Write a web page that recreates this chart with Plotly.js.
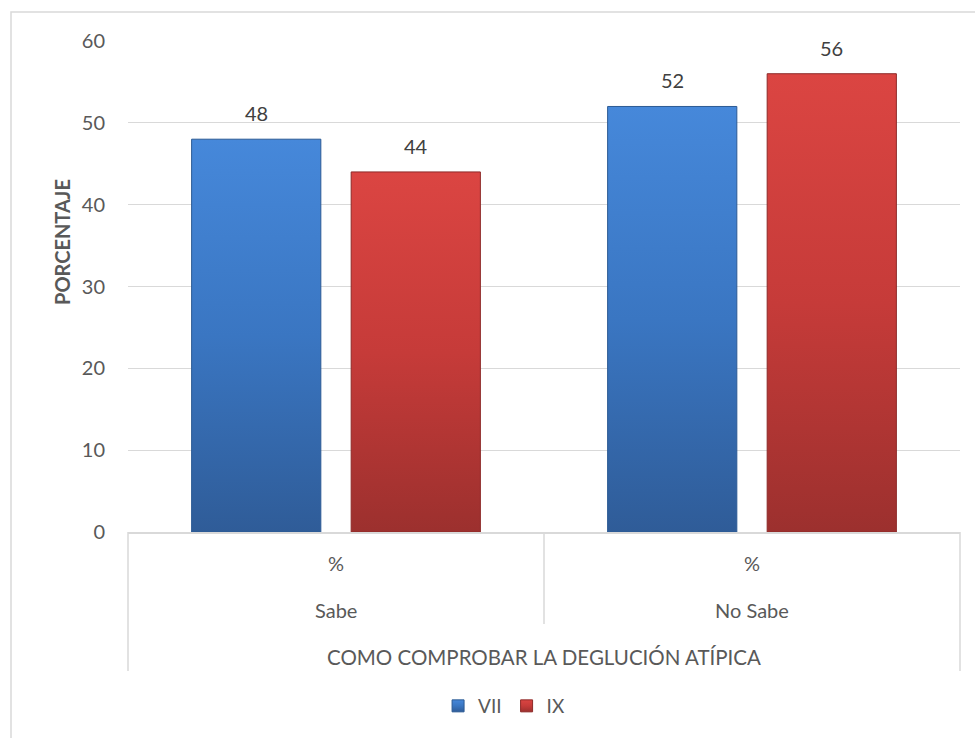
<!DOCTYPE html>
<html>
<head>
<meta charset="utf-8">
<script src="https://cdn.plot.ly/plotly-3.0.1.min.js"></script>
<style>html,body{margin:0;padding:0;background:#fff;}#chart{width:975px;height:738px;}</style>
</head>
<body>
<div id="chart"></div>
<script>
// ---- data ----
const categories = ["Sabe", "No Sabe"];
const innerLabel = ["%", "%"];
const outerLabel = "COMO COMPROBAR LA DEGLUCIÓN ATÍPICA";
const seriesNames = ["VII", "IX"];
const valuesVII = [48, 52];
const valuesIX = [44, 56];
const yTitle = "PORCENTAJE";

const FONT = "Lato, 'Open Sans', sans-serif";
const px = p => (p - 128) / 832;
const py = p => (532 - p) / 491;

const traces = [
  {type: "bar", name: seriesNames[0], x: categories, y: valuesVII,
   marker: {color: "#3a78c6", line: {color: "#2c5a94", width: 1}}, hoverinfo: "none"},
  {type: "bar", name: seriesNames[1], x: categories, y: valuesIX,
   marker: {color: "#c93c3a", line: {color: "#8e2a28", width: 1}}, hoverinfo: "none"}
];

const annotations = [];
const slot = 79.75;
[valuesVII, valuesIX].forEach((vals, si) => {
  vals.forEach((v, i) => {
    annotations.push({x: categories[i], y: v, xref: "x", yref: "y", text: String(v),
      showarrow: false, xshift: si === 0 ? -slot : slot, yshift: 26, yanchor: "middle",
      font: {family: FONT, size: 20, color: "#404040"}});
  });
});
categories.forEach((c, i) => {
  annotations.push({x: c, xref: "x", y: py(563), yref: "paper", text: innerLabel[i], showarrow: false,
    yanchor: "middle", font: {family: FONT, size: 20, color: "#595959"}});
  annotations.push({x: c, xref: "x", y: py(610), yref: "paper", text: c, showarrow: false,
    yanchor: "middle", font: {family: FONT, size: 20, color: "#595959"}});
});
annotations.push({x: 0.5, xref: "paper", y: py(657), yref: "paper", text: outerLabel, showarrow: false,
  yanchor: "middle", font: {family: FONT, size: 20.5, color: "#595959"}});
annotations.push({x: px(62), xref: "paper", y: py(242), yref: "paper", text: "<b>" + yTitle + "</b>",
  textangle: -90, showarrow: false, xanchor: "center", yanchor: "middle",
  font: {family: FONT, size: 20, color: "#595959"}});

const lineStyle = {color: "#d9d9d9", width: 1.5};
const shapes = [
  {type: "rect", xref: "paper", yref: "paper", x0: px(11), x1: px(990), y0: py(760), y1: py(12),
   line: {color: "#d9d9d9", width: 1.5}, fillcolor: "rgba(0,0,0,0)", layer: "below"},
  {type: "line", xref: "paper", yref: "paper", x0: 0, x1: 0, y0: 0, y1: py(671), line: lineStyle},
  {type: "line", xref: "paper", yref: "paper", x0: 1, x1: 1, y0: 0, y1: py(671), line: lineStyle},
  {type: "line", xref: "paper", yref: "paper", x0: 0.5, x1: 0.5, y0: 0, y1: py(624), line: lineStyle}
];

const layout = {
  width: 975, height: 738,
  margin: {l: 128, r: 15, t: 41, b: 206},
  paper_bgcolor: "#ffffff", plot_bgcolor: "#ffffff",
  barmode: "group", bargap: 0.233, bargroupgap: 0.19,
  showlegend: true,
  legend: {orientation: "h", x: 0.452, xanchor: "center", y: py(706), yanchor: "middle",
    font: {family: FONT, size: 19, color: "#595959"}, itemwidth: 30, tracegroupgap: 0},
  xaxis: {type: "category", showticklabels: false, ticks: "", showgrid: false,
    showline: true, linecolor: "#d9d9d9", linewidth: 1.5, zeroline: false, fixedrange: true},
  yaxis: {range: [0, 60], dtick: 10, tick0: 0, showgrid: true, gridcolor: "#d9d9d9", gridwidth: 1,
    zeroline: false, showline: false, ticks: "outside", ticklen: 18, tickcolor: "rgba(0,0,0,0)",
    tickfont: {family: FONT, size: 20, color: "#595959"}, fixedrange: true},
  annotations: annotations,
  shapes: shapes,
  font: {family: FONT}
};

Plotly.newPlot("chart", traces, layout, {displayModeBar: false, staticPlot: true}).then(gd => {
  const svg = gd.querySelector("svg.main-svg");
  const ns = "http://www.w3.org/2000/svg";
  let defs = svg.querySelector("defs");
  if (!defs) { defs = document.createElementNS(ns, "defs"); svg.insertBefore(defs, svg.firstChild); }
  const grads = [["gVII", "#4688da", "#3a76c2", "#2f5c98"], ["gIX", "#db4542", "#c63b39", "#9c302e"]];
  grads.forEach(([id, c0, c1, c2]) => {
    const g = document.createElementNS(ns, "linearGradient");
    g.setAttribute("id", id); g.setAttribute("x1", "0"); g.setAttribute("y1", "0");
    g.setAttribute("x2", "0"); g.setAttribute("y2", "1");
    [[0, c0], [0.5, c1], [1, c2]].forEach(([o, c]) => {
      const s = document.createElementNS(ns, "stop");
      s.setAttribute("offset", o); s.setAttribute("stop-color", c); g.appendChild(s);
    });
    defs.appendChild(g);
  });
  gd.querySelectorAll(".barlayer .trace").forEach((t, i) => {
    t.querySelectorAll("path").forEach(p => { p.style.fill = "url(#" + grads[i][0] + ")"; });
  });
  gd.querySelectorAll(".legend .traces").forEach((t, i) => {
    t.querySelectorAll(".legendpoints path").forEach(p => { p.style.fill = "url(#" + grads[i][0] + ")"; });
  });
});
</script>
</body>
</html>
